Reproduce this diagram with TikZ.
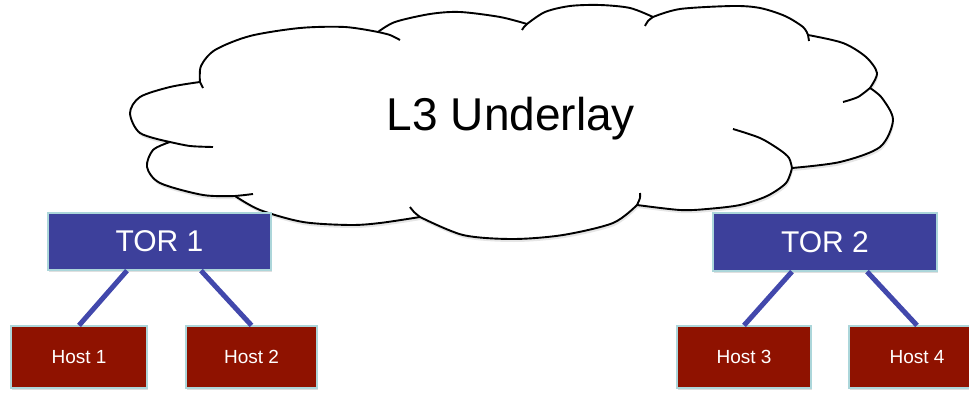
\documentclass[tikz,border=0pt]{standalone}
\usepackage{fontspec}
\setmainfont{Liberation Sans}
\usepackage{tikz}
\usetikzlibrary{calc, shadows}
\definecolor{torblue}{RGB}{61, 64, 155}
\definecolor{hostred}{RGB}{143, 18, 0}
\definecolor{linkblue}{RGB}{66, 72, 172}
\definecolor{edgecyan}{RGB}{172, 214, 218}
\tikzstyle{tor} = [rectangle, draw=edgecyan, line width=1.2pt, fill=torblue, text=white, minimum width=223pt, minimum height=57pt, inner sep=0pt, font=\fontsize{30}{36}\selectfont, drop shadow={shadow xshift=1pt, shadow yshift=-2pt, opacity=0.25}]
\tikzstyle{host} = [rectangle, draw=edgecyan, line width=1.2pt, fill=hostred, text=white, minimum height=62pt, inner sep=0pt, font=\fontsize{19}{23}\selectfont, drop shadow={shadow xshift=1pt, shadow yshift=-2pt, opacity=0.25}]
\tikzstyle{link} = [draw=linkblue, line width=5pt]
\tikzstyle{cloudline} = [line width=1.9pt, line join=round]

\begin{document}
\begin{tikzpicture}[x=1pt, y=-1pt]
    \useasboundingbox (0,0) rectangle (969,393);

    % Underlay cloud
    \draw[cloudline, fill=white, drop shadow={shadow xshift=1pt, shadow yshift=-3pt, opacity=0.2}]
        plot[smooth] coordinates {(200,82) (201,66) (215,50) (250,36) (300,28) (345,27) (378,32)}
        -- plot[smooth] coordinates {(378,32) (395,22) (430,14) (460,12) (500,17) (527,24)}
        -- plot[smooth] coordinates {(527,24) (545,12) (570,6) (600,5) (630,8) (653,17)}
        -- plot[smooth] coordinates {(653,17) (680,9) (733,6) (760,8) (785,16) (803,27) (808,35)}
        -- plot[smooth] coordinates {(808,35) (843,43) (866,57) (877,73) (870,88)}
        -- plot[smooth] coordinates {(870,88) (882,98) (893,120) (880,147) (840,162) (792,168)}
        -- plot[smooth] coordinates {(792,168) (786,183) (767,196) (740,205) (707,209) (680,210) (637,205)}
        -- plot[smooth] coordinates {(637,205) (613,223) (563,235) (513,239) (463,235) (420,217)}
        -- plot[smooth] coordinates {(420,217) (380,223) (350,225) (303,222) (260,210) (235,196)}
        -- plot[smooth] coordinates {(235,196) (203,195) (160,183) (147,167) (153,150) (170,142)}
        -- plot[smooth] coordinates {(170,142) (140,133) (130,113) (140,97) (170,87) (200,82)}
        -- cycle;
    % inner ends of the lobes
    \draw[cloudline] (200,82) -- (203,88);
    \draw[cloudline] plot[smooth] coordinates {(378,32) (390,35) (400,40)};
    \draw[cloudline] plot[smooth] coordinates {(527,24) (524,27) (522,30)};
    \draw[cloudline] plot[smooth] coordinates {(653,17) (648,21) (645,26)};
    \draw[cloudline] (808,35) -- (809,41);
    \draw[cloudline] plot[smooth] coordinates {(870,88) (858,97) (843,102)};
    \draw[cloudline] plot[smooth] coordinates {(792,168) (789,158) (780,150) (760,138) (733,129)};
    \draw[cloudline] plot[smooth] coordinates {(637,205) (640,198) (640,193)};
    \draw[cloudline] plot[smooth] coordinates {(420,217) (414,212) (410,207)};
    \draw[cloudline] plot[smooth] coordinates {(235,196) (245,195) (253,194)};
    \draw[cloudline] plot[smooth] coordinates {(170,142) (190,146) (213,147)};
    \node[font=\fontsize{46}{55}\selectfont, anchor=base] (underlay) at (511,131) {L3 Underlay};

    % TOR switches
    \node[tor] (tor1) at (159.5,241.5) {TOR 1};
    \node[tor, minimum width=224pt, minimum height=58pt] (tor2) at (825,242) {TOR 2};

    % Hosts
    \node[host, minimum width=136pt] (host1) at (79,357) {Host 1};
    \node[host, minimum width=131pt] (host2) at (251.5,357) {Host 2};
    \node[host, minimum width=134pt] (host3) at (744,357) {Host 3};
    \node[host, minimum width=136pt] (host4) at (917,357) {Host 4};

    % Links
    \draw[link] ($(tor1.south)+(-32.5,0)$) -- (host1.north);
    \draw[link] ($(tor1.south)+(41.5,0)$) -- (host2.north);
    \draw[link] ($(tor2.south)+(-33,0)$) -- (host3.north);
    \draw[link] ($(tor2.south)+(42,0)$) -- (host4.north);
\end{tikzpicture}
\end{document}
